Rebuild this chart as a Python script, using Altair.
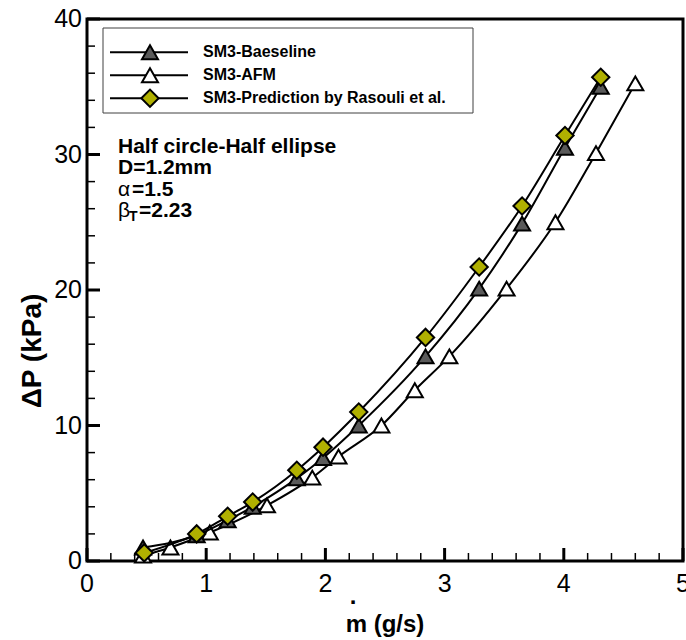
import altair as alt
import pandas as pd

# ---------------- data ----------------
series_names = ["SM3-Baeseline", "SM3-AFM", "SM3-Prediction by Rasouli et al."]

m_baseline = [0.47, 0.92, 1.18, 1.39, 1.76, 1.98, 2.28, 2.84, 3.29, 3.65, 4.01, 4.31]
dp_baseline = [1.0, 1.9, 3.0, 4.0, 6.1, 7.6, 10.0, 15.1, 20.1, 24.9, 30.5, 35.0]

m_afm = [0.47, 0.70, 1.03, 1.51, 1.89, 2.11, 2.47, 2.75, 3.04, 3.52, 3.93, 4.27, 4.60]
dp_afm = [0.4, 1.0, 2.1, 4.1, 6.15, 7.7, 10.0, 12.6, 15.1, 20.1, 25.0, 30.1, 35.25]

m_pred = [0.48, 0.92, 1.18, 1.39, 1.76, 1.98, 2.28, 2.84, 3.29, 3.65, 4.01, 4.31]
dp_pred = [0.6, 2.0, 3.3, 4.35, 6.7, 8.4, 11.0, 16.5, 21.7, 26.2, 31.4, 35.7]

x_major = [0, 1, 2, 3, 4, 5]
x_minor = [0.2, 0.4, 0.6, 0.8, 1.2, 1.4, 1.6, 1.8, 2.2, 2.4, 2.6, 2.8,
           3.2, 3.4, 3.6, 3.8, 4.2, 4.4, 4.6, 4.8]
y_major = [0, 10, 20, 30, 40]
y_minor = [2, 4, 6, 8, 12, 14, 16, 18, 22, 24, 26, 28, 32, 34, 36, 38]

x_title = "m (g/s)"
y_title = "ΔP (kPa)"
info_lines = ["Half circle-Half ellipse", "D=1.2mm"]
alpha_parts = ["α", "=1.5"]
beta_parts = ["β", "T", "=2.23"]

# ---------------- styling ----------------
FONT = "Liberation Sans"
W, H = 596, 542
GRAY = "#5a5a5a"
OLIVE = "#b0b000"
xs = alt.Scale(domain=[0, 5], nice=False, zero=False)
ys = alt.Scale(domain=[0, 40], nice=False, zero=False)

styles = [
    dict(shape="triangle-up", fill=GRAY, size=256),
    dict(shape="triangle-up", fill="white", size=256),
    dict(shape="diamond", fill=OLIVE, size=300),
]


def X(field):
    return alt.X(field, scale=xs, axis=None)


def Y(field):
    return alt.Y(field, scale=ys, axis=None)


def series_layers(ms, dps, style):
    df = pd.DataFrame({"m": ms, "dp": dps})
    base = alt.Chart(df).encode(x=X("m:Q"), y=Y("dp:Q"))
    line = base.mark_line(color="black", strokeWidth=2, interpolate="monotone")
    pts = base.mark_point(
        shape=style["shape"], filled=True, fill=style["fill"], stroke="black",
        strokeWidth=2, size=style["size"], opacity=1,
    )
    return [line, pts]


def txt(text, x, y, size, weight="bold", align="left", baseline="alphabetic", angle=0):
    return alt.Chart(pd.DataFrame({"t": [text]})).mark_text(
        font=FONT, fontSize=size, fontWeight=weight, align=align,
        baseline=baseline, color="black", angle=angle,
    ).encode(text="t:N", x=alt.value(x), y=alt.value(y))


def x_ticks(values, length, width):
    return alt.Chart(pd.DataFrame({"xt": values})).mark_tick(
        color="black", size=length, thickness=width, opacity=1
    ).encode(x=X("xt:Q"), y=alt.value(H - length / 2))


def y_ticks(values, length, width):
    return alt.Chart(pd.DataFrame({"yt": values})).mark_tick(
        color="black", size=length, thickness=width, opacity=1
    ).encode(y=Y("yt:Q"), x=alt.value(length / 2))


layers = []

# tick labels (from the tick lists, positioned through the scales)
layers.append(
    alt.Chart(pd.DataFrame({"xl": x_major, "lab": [str(v) for v in x_major]}))
    .mark_text(font=FONT, fontSize=25, color="black", align="center", baseline="top")
    .encode(x=X("xl:Q"), y=alt.value(H + 11), text="lab:N")
)
layers.append(
    alt.Chart(pd.DataFrame({"yl": y_major, "lab": [str(v) for v in y_major]}))
    .mark_text(font=FONT, fontSize=25, color="black", align="right", baseline="middle")
    .encode(y=Y("yl:Q"), x=alt.value(-5), text="lab:N")
)

# axis titles
layers.append(txt(x_title, W / 2, 606, 24, align="center", baseline="middle"))
layers.append(txt(".", 266, 585, 24, align="center"))
layers.append(txt(y_title, -54, 332, 28, align="center", baseline="middle", angle=270))

layers += series_layers(m_afm, dp_afm, styles[1])
layers += series_layers(m_baseline, dp_baseline, styles[0])
layers += series_layers(m_pred, dp_pred, styles[2])

# inward tick marks
layers.append(x_ticks(x_minor, 8, 1.5))
layers.append(y_ticks(y_minor, 8, 1.5))
layers.append(x_ticks(x_major, 13, 3))
layers.append(y_ticks(y_major, 13, 3))

# legend box
layers.append(
    alt.Chart(pd.DataFrame({"a": [0]})).mark_rect(
        fill="white", stroke="#404040", strokeWidth=1
    ).encode(x=alt.value(16), x2=alt.value(386), y=alt.value(9), y2=alt.value(94))
)
for i, name in enumerate(series_names):
    yy = 33.3 + 23 * i
    st = styles[i]
    d = pd.DataFrame({"name": [name]})
    layers.append(
        alt.Chart(d).mark_rule(color="black", strokeWidth=2)
        .encode(x=alt.value(23), x2=alt.value(101), y=alt.value(yy))
    )
    layers.append(
        alt.Chart(d).mark_point(
            shape=st["shape"], filled=True, fill=st["fill"], stroke="black",
            strokeWidth=2, size=st["size"], opacity=1,
        ).encode(x=alt.value(63), y=alt.value(yy))
    )
    layers.append(
        alt.Chart(d).mark_text(
            font=FONT, fontSize=16, fontWeight="bold", align="left",
            baseline="middle", color="black",
        ).encode(text="name:N", x=alt.value(116), y=alt.value(yy))
    )

# annotation block
layers.append(txt(info_lines[0], 31, 133.5, 21))
layers.append(txt(info_lines[1], 31, 155, 21))
layers.append(txt(alpha_parts[0], 31, 176.5, 21, weight="normal"))
layers.append(txt(alpha_parts[1], 45, 176.5, 21))
layers.append(txt(beta_parts[0], 31, 197.5, 21, weight="normal"))
layers.append(txt(beta_parts[1], 42, 202, 14))
layers.append(txt(beta_parts[2], 52, 197.5, 21))

chart = (
    alt.layer(*layers)
    .properties(
        width=W, height=H, autosize="none",
        padding={"left": 87, "top": 19, "right": 3, "bottom": 79},
        background="white",
    )
    .configure_view(stroke="black", strokeWidth=3)
)

chart.save("out.html", embed_options={"renderer": "svg", "actions": False})
